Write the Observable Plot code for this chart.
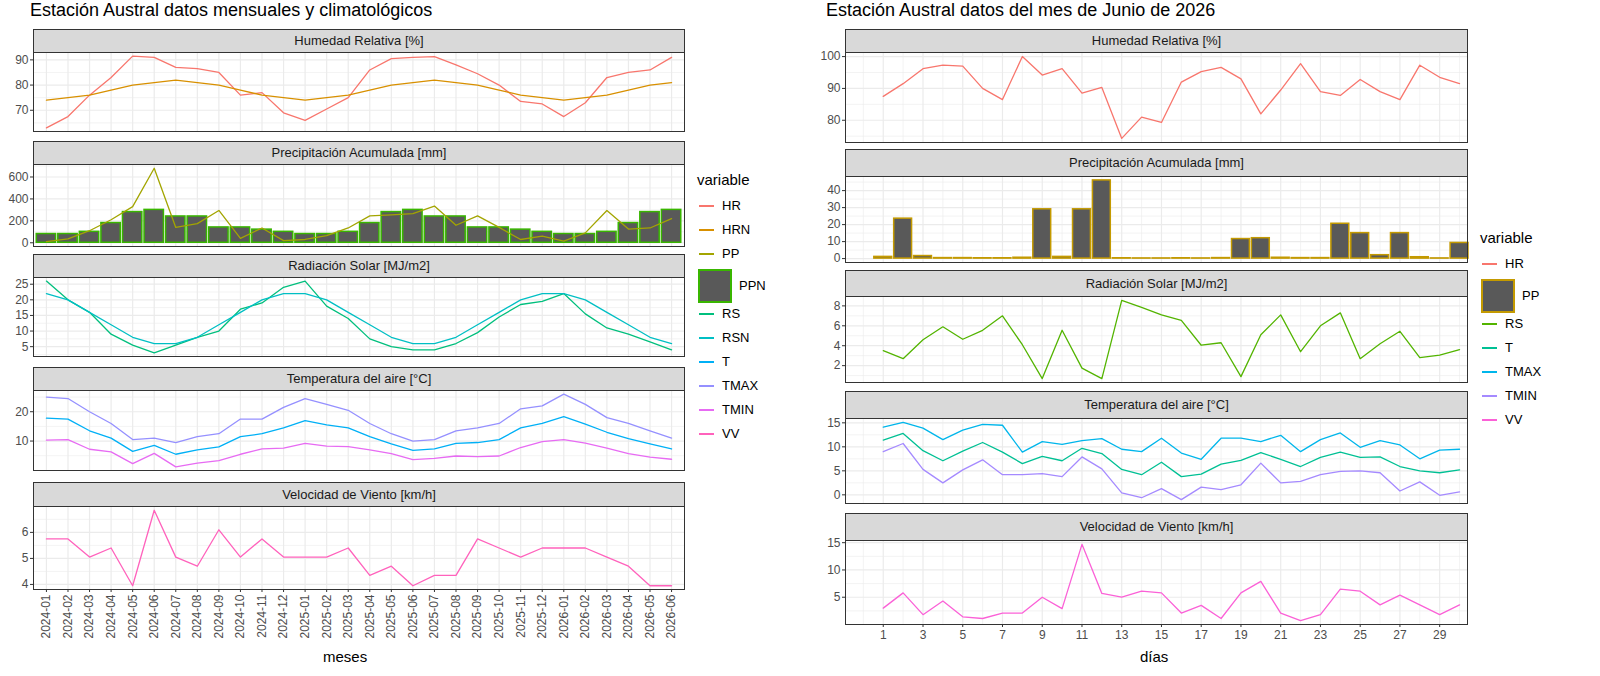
<!DOCTYPE html>
<html><head><meta charset="utf-8">
<script src="https://cdn.jsdelivr.net/npm/d3@7"></script>
<script src="https://cdn.jsdelivr.net/npm/@observablehq/plot@0.6"></script>
<style>
body{margin:0;background:#fff;font-family:"Liberation Sans",Arial,sans-serif;}
#root{position:relative;width:1600px;height:676px;overflow:hidden;}
.abs{position:absolute;}
.strip{position:absolute;background:#D9D9D9;border:1px solid #333;box-sizing:border-box;text-align:center;font-size:13px;color:#1a1a1a;}
.title{position:absolute;font-size:18px;color:#000;}
.lg{position:absolute;font-size:13px;color:#000;}
</style></head><body><div id="root"></div>
<script>
const months=["2024-01","2024-02","2024-03","2024-04","2024-05","2024-06","2024-07","2024-08","2024-09","2024-10","2024-11","2024-12","2025-01","2025-02","2025-03","2025-04","2025-05","2025-06","2025-07","2025-08","2025-09","2025-10","2025-11","2025-12","2026-01","2026-02","2026-03","2026-04","2026-05","2026-06"];
const mHR=[63,67.5,76,83,91.5,91,87,86.5,85,76,77,69,66,70.5,75,86,90.5,91,91.3,88,84.5,80,73.5,72.5,67.5,73,83,85,86,91];
const mHRN=[74,75,76,78,80,81,82,81,80,78,76,75,74,75,76,78,80,81,82,81,80,78,76,75,74,75,76,78,80,81];
const mPP=[10,35,110,210,330,680,140,175,295,40,135,20,30,65,135,245,255,265,335,160,245,140,30,60,15,90,295,125,135,220];
const mPPN=[80,80,100,180,280,300,240,240,140,140,120,100,80,80,100,180,280,300,240,240,140,140,120,100,80,80,100,180,280,300];
const mRS=[26,20,16,9,5.5,3,5.5,8,10,17,19,24,26,18,14,7.5,5,4,4,6,9.5,14.5,18.5,19.5,22,15.5,11,9,6.5,4];
const mRSN=[22,20,16,12,8,6,6,8,12,16,20,22,22,20,16,12,8,6,6,8,12,16,20,22,22,20,16,12,8,6];
const mTMAX=[25,24.5,20,16,10.5,11,9.5,11.5,12.5,17.5,17.5,21.5,24.5,22.5,20.5,16,12.5,10,10.5,13.5,14.5,16,21,22,26,22.5,18,16,13.5,11];
const mT=[17.8,17.5,13.5,11,6.5,8.5,5.5,7,8,11.5,12.5,14.5,17,15.5,14.5,11.5,9,6.8,7.3,9.2,9.5,10.5,14.5,16,18.3,15.8,13,10.8,9,7.3];
const mTMIN=[10.3,10.5,7.2,6.3,2.3,5.8,1.2,2.5,3.3,5.5,7.3,7.6,9.2,8.3,8.1,7,5.7,3.7,4.1,4.9,4.7,4.9,7.8,9.8,10.5,9.3,7.6,5.7,4.5,3.8];
const mVV=[5.75,5.75,5.05,5.4,3.95,6.85,5.05,4.7,6.1,5.05,5.75,5.05,5.05,5.05,5.4,4.35,4.7,3.95,4.35,4.35,5.75,5.4,5.05,5.4,5.4,5.4,5.05,4.7,3.95,3.95];

const days=d3.range(1,31);
const dHR=[87.5,91.5,96.2,97.3,97,90,86.5,100,94.2,96.2,88.5,90.3,74.3,81,79.3,92,95.3,96.6,93,82,89.5,97.8,89,87.8,92.8,89,86.5,97.3,93.5,91.5];
const dPP=[1,23.5,1.5,0.3,0.3,0.2,0.2,0.5,29,1,29,46,0.2,0.1,0.1,0.2,0.1,0.3,11.5,12,0.5,0.3,0.3,20.5,15,2,15,0.8,0.1,9.2];
const dRS=[3.5,2.7,4.6,5.9,4.65,5.55,7,4.1,0.7,5.55,1.75,0.7,8.55,7.85,7.1,6.55,4.05,4.3,0.9,5.1,7.1,3.4,6,7.3,2.7,4.2,5.45,2.8,3.05,3.6];
const dTMAX=[14.1,15.1,13.9,11.5,13.5,14.7,14.5,8.9,11.1,10.5,11.3,11.7,9.5,9,11.8,8.7,7.4,11.8,11.8,11.1,12.4,9,11.5,12.9,9.9,11.3,10.4,7.5,9.3,9.5];
const dT=[11.4,12.8,9.2,7.1,9.1,10.9,8.9,6.5,8,7.1,9.7,8.6,5.3,4.2,6.8,3.8,4.3,6.4,7.2,8.8,7.4,5.9,7.8,8.9,7.8,7.9,5.9,5,4.6,5.2];
const dTMIN=[9,10.7,5.3,2.5,5.2,7.3,4.2,4.2,4.4,3.8,7.9,5.4,0.4,-0.6,1.3,-1,1.6,1.1,2.1,6.6,2.5,2.8,4.2,4.9,5,4.6,0.8,2.7,-0.1,0.6];
const dVV=[3,5.8,1.8,4.3,1.4,1.1,2.1,2.1,5,2.9,14.7,5.7,5,6.1,5.8,2.1,3.5,1.1,5.8,7.9,2.1,0.7,1.8,6.5,6.1,3.6,5.4,3.6,1.8,3.6];

const colL={HR:"#F8766D",HRN:"#D89000",PP:"#A3A500",PPN:"#39B600",RS:"#00BF7D",RSN:"#00BFC4",T:"#00B0F6",TMAX:"#9590FF",TMIN:"#E76BF3",VV:"#FF62BC"};
const colR={HR:"#F8766D",PP:"#C49A00",RS:"#53B400",T:"#00C094",TMAX:"#00B6EB",TMIN:"#A58AFF",VV:"#FB61D7"};

const root=document.getElementById("root");
function div(cls,txt,css){const e=document.createElement("div");e.className=cls;e.textContent=txt;Object.assign(e.style,css);root.appendChild(e);return e;}

function expandDom(vals){const lo=d3.min(vals),hi=d3.max(vals),r=hi-lo;return [lo-0.05*r,hi+0.05*r];}

function panel(o){
  const all=[].concat(...o.series.map(s=>s.v),...(o.bars?[o.bars.v,[0]]:[]));
  const yd=expandDom(all);
  const step=o.yTicks[1]-o.yTicks[0];
  const yMinor=d3.range(o.yTicks[0]-step/2,yd[1],step).filter(v=>v>yd[0]&&v<yd[1]);
  const ml=40, mb=o.xaxis?o.mb:0;
  const marks=[
    Plot.ruleY(yMinor,{stroke:"#EBEBEB",strokeWidth:0.6}),
    Plot.ruleX(o.xMinor,{stroke:"#EBEBEB",strokeWidth:0.6}),
    Plot.ruleY(o.yTicks,{stroke:"#EBEBEB",strokeWidth:1.2}),
    Plot.ruleX(o.xMajor,{stroke:"#EBEBEB",strokeWidth:1.2}),
  ];
  if(o.bars){
    const bd=o.bars.x.map((x,i)=>({x1:x-0.45,x2:x+0.45,y:o.bars.v[i]}));
    marks.push(Plot.rectY(bd,{x1:"x1",x2:"x2",y:"y",fill:"#595959",stroke:o.bars.c,strokeWidth:1.5}));
  }
  for(const s of o.series){
    marks.push(Plot.line(s.v.map((v,i)=>({x:s.x[i],y:v})),{x:"x",y:"y",stroke:s.c,strokeWidth:1.3}));
  }
  marks.push(Plot.frame({stroke:"#333",strokeWidth:1}));
  marks.push(Plot.axisY(o.yTicks,{label:null,tickSize:3,tickPadding:2,fontSize:12,color:"#4D4D4D",stroke:"#333"}));
  if(o.xaxis) marks.push(o.xaxis);
  const p=Plot.plot({width:o.w+ml+2,height:o.h+mb,marginLeft:ml,marginRight:2,marginTop:0,marginBottom:mb,
    style:{fontFamily:"Liberation Sans, Arial, sans-serif",fontSize:"12px",color:"#4D4D4D",background:"transparent",overflow:"visible"},
    x:{domain:o.xdom,axis:null},y:{domain:yd,axis:null},marks});
  p.style.position="absolute";p.style.left=(o.left-ml)+"px";p.style.top=o.top+"px";p.style.overflow="visible";
  root.appendChild(p);
}
function strip(l,t,w,h,txt){div("strip",txt,{left:l+"px",top:t+"px",width:w+"px",height:h+"px",lineHeight:(h-2)+"px"});}

const idx=d3.range(months.length);
const LX=33,LW=651,Ldom=[-0.6,29.6];
div("title","Estación Austral datos mensuales y climatológicos",{left:"30px",top:"0px"});
const Lrows=[
 {t:"Humedad Relativa [%]",s:29,p:52,h:79,ticks:[70,80,90],series:[{v:mHR,c:colL.HR},{v:mHRN,c:colL.HRN}]},
 {t:"Precipitación Acumulada [mm]",s:141,p:164,h:82,ticks:[0,200,400,600],bars:{v:mPPN,c:colL.PPN},series:[{v:mPP,c:colL.PP}]},
 {t:"Radiación Solar [MJ/m2]",s:254,p:277,h:79,ticks:[5,10,15,20,25],series:[{v:mRS,c:colL.RS},{v:mRSN,c:colL.RSN}]},
 {t:"Temperatura del aire [°C]",s:367,p:390,h:80,ticks:[10,20],series:[{v:mTMAX,c:colL.TMAX},{v:mT,c:colL.T},{v:mTMIN,c:colL.TMIN}]},
 {t:"Velocidad de Viento [km/h]",s:482,p:506,h:83,ticks:[4,5,6],series:[{v:mVV,c:colL.VV}]},
];
Lrows.forEach((r,k)=>{
  strip(LX,r.s,LW+1,r.p-r.s+1,r.t);
  panel({left:LX,top:r.p,w:LW,h:r.h,xdom:Ldom,xMajor:idx,xMinor:[],yTicks:r.ticks,
    series:r.series.map(s=>({...s,x:idx})),bars:r.bars?{...r.bars,x:idx}:null,mb:56,
    xaxis:k===4?Plot.axisX(idx,{label:null,tickFormat:i=>months[i],tickRotate:-90,tickSize:3,tickPadding:2,fontSize:12,color:"#4D4D4D",stroke:"#333"}):null});
});
div("lg","meses",{left:"323px",top:"648px",fontSize:"15px"});

const RX=845,RW=622,Rdom=[-0.9,30.4];
const odd=d3.range(1,31,2),even=d3.range(0,31,2);
div("title","Estación Austral datos del mes de Junio de 2026",{left:"826px",top:"0px"});
const Rrows=[
 {t:"Humedad Relativa [%]",s:29,p:52,h:90,ticks:[80,90,100],series:[{v:dHR,c:colR.HR}]},
 {t:"Precipitación Acumulada [mm]",s:149,p:176,h:86,ticks:[0,10,20,30,40],bars:{v:dPP,c:colR.PP},series:[]},
 {t:"Radiación Solar [MJ/m2]",s:270,p:296,h:86,ticks:[2,4,6,8],series:[{v:dRS,c:colR.RS}]},
 {t:"Temperatura del aire [°C]",s:391,p:418,h:85,ticks:[0,5,10,15],series:[{v:dTMAX,c:colR.TMAX},{v:dT,c:colR.T},{v:dTMIN,c:colR.TMIN}]},
 {t:"Velocidad de Viento [km/h]",s:513,p:540,h:84,ticks:[5,10,15],series:[{v:dVV,c:colR.VV}]},
];
Rrows.forEach((r,k)=>{
  strip(RX,r.s,RW+1,r.p-r.s+1,r.t);
  panel({left:RX,top:r.p,w:RW,h:r.h,xdom:Rdom,xMajor:odd,xMinor:even,yTicks:r.ticks,
    series:r.series.map(s=>({...s,x:days})),bars:r.bars?{...r.bars,x:days}:null,mb:24,
    xaxis:k===4?Plot.axisX(odd,{label:null,tickSize:3,tickPadding:3,fontSize:12,color:"#4D4D4D",stroke:"#333"}):null});
});
div("lg","días",{left:"1140px",top:"648px",fontSize:"15px"});

function legend(x,y,title,names,cols,barKey,barStroke){
  div("lg",title,{left:x+"px",top:y+"px",fontSize:"15px"});
  let yy=y+26;
  names.forEach(n=>{
    const big=n===barKey, kh=big?34:17, kw=big?34:17;
    const key=document.createElement("div");key.className="abs";
    Object.assign(key.style,{left:(x+1)+"px",top:yy+"px",width:kw+"px",height:kh+"px"});
    if(big){key.style.background="#595959";key.style.border="2px solid "+barStroke;key.style.boxSizing="border-box";}
    else{const l=document.createElement("div");Object.assign(l.style,{position:"absolute",left:"1px",right:"1px",top:"8px",height:"1.5px",background:cols[n]});key.appendChild(l);}
    root.appendChild(key);
    div("lg",n,{left:(x+kw+8)+"px",top:(yy+kh/2-8)+"px"});
    yy+=kh+(big?2:7);
  });
}
legend(697,171,"variable",Object.keys(colL),colL,"PPN",colL.PPN);
legend(1480,229,"variable",Object.keys(colR),colR,"PP",colR.PP);
</script></body></html>
